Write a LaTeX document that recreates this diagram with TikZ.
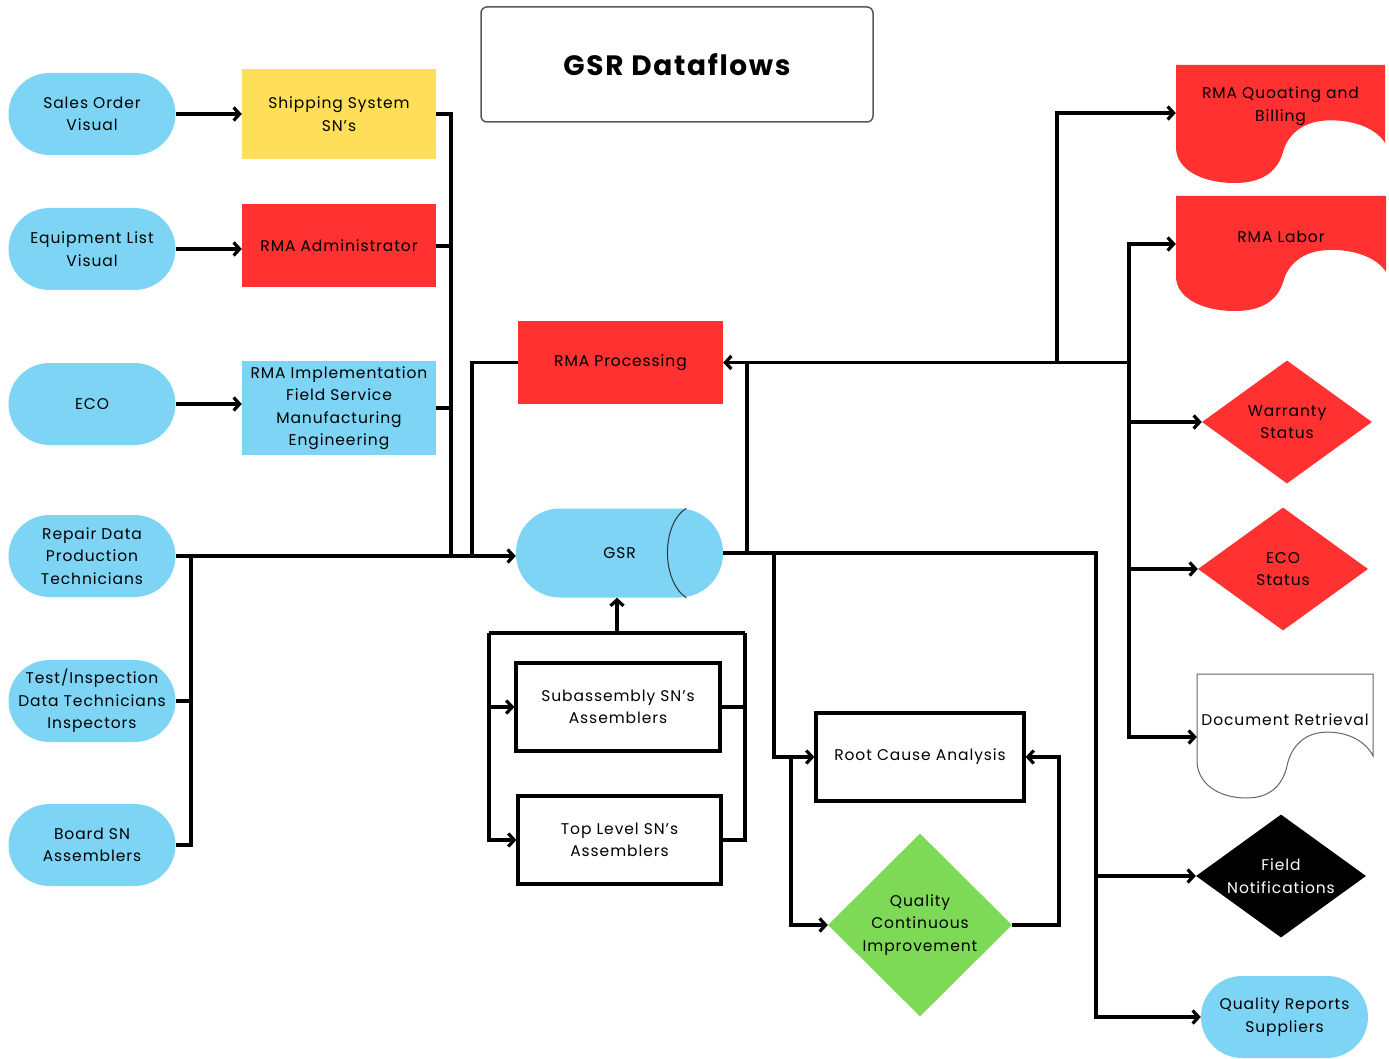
\documentclass[tikz,border=0pt]{standalone}
\usepackage{fontspec}
\setmainfont{Poppins}[LetterSpace=6]
\usetikzlibrary{arrows.meta,shapes.geometric}

\definecolor{skyblue}{HTML}{7DD4F5}
\definecolor{rmared}{HTML}{FF3131}
\definecolor{gold}{HTML}{FFDE59}
\definecolor{leaf}{HTML}{7ED957}

% document shape: x y w h style
\newcommand{\docshape}[5]{%
  \path[#5, shift={(#1,#2)}, xscale=#3, yscale=#4] (0,0) -- (1,0) -- (1,0.66)
    .. controls (0.95,0.52) and (0.83,0.46) .. (0.72,0.47)
    .. controls (0.6,0.48) and (0.53,0.6) .. (0.51,0.75)
    .. controls (0.48,0.92) and (0.4,1.0) .. (0.28,1.0)
    .. controls (0.12,1.0) and (0,0.88) .. (0,0.7) -- cycle;}

\begin{document}
\begin{tikzpicture}[x=1pt, y=-1pt,
  flow/.style={line width=3.2pt, black},
  >={Straight Barb[length=6pt,width=13pt]},
  txt/.style={align=center, inner sep=0pt, text=black, font=\fontsize{15.5}{22.5}\selectfont},
  pill/.style={txt, fill=skyblue, rounded corners=41pt, minimum width=167pt, minimum height=82pt},
  box/.style={txt, minimum width=194pt, minimum height=#1},
  outlined/.style={txt, draw, line width=3.2pt, minimum width=204pt, minimum height=88pt},
  diam/.style={txt, diamond, aspect=1.38, minimum width=170pt, minimum height=123pt}]

\fill[white] (0,0) rectangle (1389,1059);
\useasboundingbox (0,0) rectangle (1389,1059);

% Title
  \node[draw=black!65, line width=1.5pt, rounded corners=6pt, minimum width=392pt, minimum height=115pt,
        font=\fontsize{28}{30}\selectfont\bfseries] (title) at (677,64.5) {GSR Dataflows};

% Sources
  \node[pill] (sales) at (92,114) {Sales Order\\Visual};
  \node[pill] (eqlist) at (92,249) {Equipment List\\Visual};
  \node[pill] (ecoin) at (92,404) {ECO};
  \node[pill] (repair) at (92,556) {Repair Data\\Production\\Technicians};
  \node[pill] (testinsp) at (92,701) {Test/Inspection\\Data Technicians\\Inspectors};
  \node[pill] (board) at (92,845) {Board SN\\Assemblers};

  \node[box=90pt, fill=gold] (ship) at (339,114) {Shipping System\\SN's};
  \node[box=83pt, fill=rmared] (admin) at (339,246) {RMA Administrator};
  \node[box=94pt, fill=skyblue] (impl) at (339,408) {RMA Implementation\\Field Service\\Manufacturing\\Engineering};

% Center
  \node[box=83pt, fill=rmared, minimum width=205pt] (proc) at (620.5,362.5) {RMA Processing};
  \node[txt, fill=skyblue, rounded corners=44pt, minimum width=207pt, minimum height=89pt] (gsr) at (619.5,553) {GSR};
  \draw[line width=1pt, black!80] ([xshift=-37pt]gsr.north east) .. controls +(-25,16) and +(-25,-17) .. ([xshift=-37pt]gsr.south east);
  \node[outlined] (subasm) at (618,707) {Subassembly SN's\\Assemblers};
  \node[outlined, minimum width=203pt] (toplvl) at (619.5,840) {Top Level SN's\\Assemblers};
  \node[outlined, minimum width=208pt] (rca) at (920,757) {Root Cause Analysis};
  \node[diam, aspect=1, fill=leaf, minimum width=184pt, minimum height=183pt] (qci) at (920,925) {Quality\\Continuous\\Improvement};

% Outputs
  \docshape{1176}{65}{209}{118}{fill=rmared}
  \node[txt, minimum width=209pt] (quote) at (1280.5,106) {RMA Quoating and\\Billing};
  \docshape{1176}{196}{210}{115}{fill=rmared}
  \node[txt, minimum width=210pt] (labor) at (1281,237) {RMA Labor};
  \node[diam, fill=rmared] (warr) at (1287,422) {Warranty\\Status};
  \node[diam, fill=rmared] (ecost) at (1283,569) {ECO\\Status};
  \docshape{1197}{674}{176}{124}{fill=white, draw=black!60, line width=1pt}
  \node[txt, minimum width=176pt] (docret) at (1285,720) {Document Retrieval};
  \node[diam, fill=black, text=white] (field) at (1281,876) {Field\\Notifications};
  \node[pill] (qrep) at (1284.5,1017) {Quality Reports\\Suppliers};

% Junctions
  \coordinate (jA) at (451,556);
  \coordinate (jB) at (191,556);
  \coordinate (jC) at (472,556);
  \coordinate (jD) at (747,553);
  \coordinate (jE) at (1096,553);
  \coordinate (jF) at (1129,362.5);
  \coordinate (jG) at (1057,362.5);
  \coordinate (jH) at (774,553);
  \coordinate (jI) at (791,757);
  \coordinate (jJ) at (1059,925);
  \coordinate (jK) at (617,633);
  \coordinate (jL) at (489,633);
  \coordinate (jM) at (745,633);

% Left flows
  \draw[flow,->] (sales) -- (ship);
  \draw[flow,->] (eqlist.east) -- (eqlist.east -| admin.west);
  \draw[flow,->] (ecoin.east) -- (ecoin.east -| impl.west);
  \draw[flow] (ship.east) -| (jA);
  \draw[flow] (admin.east) -- (admin.east -| jA);
  \draw[flow] (impl.east) -- (impl.east -| jA);
  \draw[flow] (testinsp.east) -| (jB);
  \draw[flow] (board.east) -| (jB);
  \draw[flow,->] (repair.east) -- (repair.east -| gsr.west);
  \draw[flow] (proc.west) -| (jC);

% Assemblers
  \draw[flow,->] (jK) -- (jK |- gsr.south);
  \draw[flow] (jL) -- (jM);
  \draw[flow,->] (jL) |- (subasm.west);
  \draw[flow,->] (jL) |- (toplvl.west);
  \draw[flow] (subasm.east) -| (jM);
  \draw[flow] (toplvl.east) -| (jM);

% Right flows
  \draw[flow,->] (gsr.east) -- (jE) |- (qrep.west);
  \draw[flow,->] (jE |- field.west) -- (field.west);
  \draw[flow,->] (jD) |- (proc.east);
  \draw[flow] (proc.east -| jD) -- (jF);
  \draw[flow,->] (jF) |- ([yshift=-7pt]labor.west);
  \draw[flow,->] (jF) |- (warr.west);
  \draw[flow,->] (jF) |- (ecost.west);
  \draw[flow,->] (jF) |- ([yshift=-17pt]docret.west);
  \draw[flow,->] (jG) |- ([yshift=-7pt]quote.west);

% Root cause loop
  \draw[flow,->] (jH) |- (rca.west);
  \draw[flow,->] (jI) |- (qci.west);
  \draw[flow,->] (qci.east) -- (jJ) |- (rca.east);

\end{tikzpicture}
\end{document}
